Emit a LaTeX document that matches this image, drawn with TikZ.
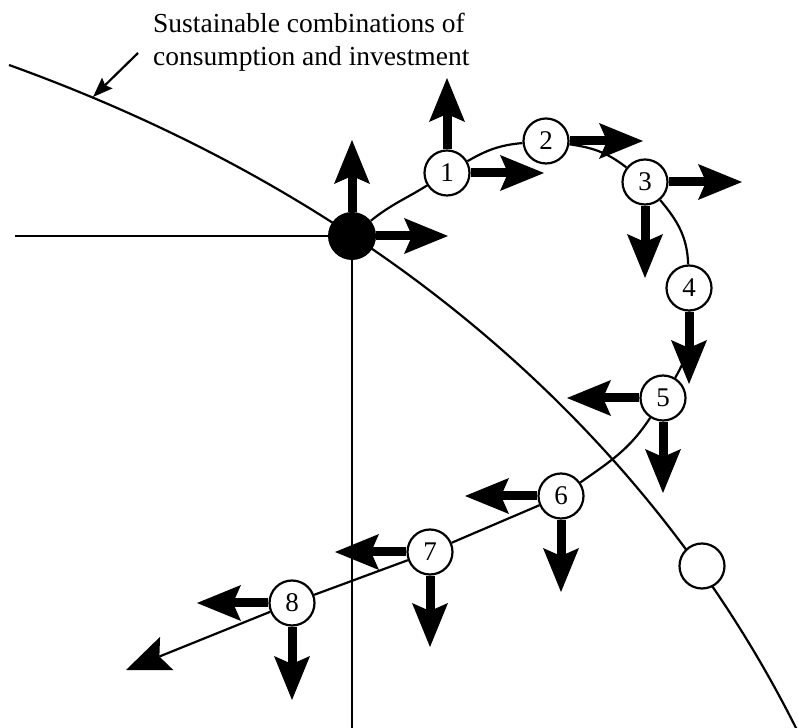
\documentclass[tikz,border=0pt]{standalone}
\usepackage{fontspec}
\setmainfont{Liberation Serif}
\usetikzlibrary{arrows.meta}

\begin{document}
\begin{tikzpicture}[
  x=1pt, y=1pt,
  curve/.style={line width=2.2pt},
  stage/.style={circle, draw, line width=2.2pt, fill=white, minimum size=45pt,
    inner sep=0pt, font=\fontsize{27}{30}\selectfont},
  steady/.style={circle, fill=black, minimum size=48pt, inner sep=0pt},
  force/.style={line width=9pt,
    -{Stealth[length=44pt, width=36pt, inset=8pt, line width=0pt]}},
  path arr/.style={line width=2.2pt,
    -{Stealth[length=44pt, width=36pt, inset=8pt, line width=0pt]}},
  pointer/.style={line width=2.2pt,
    -{Stealth[length=20pt, width=15pt, inset=3pt, line width=0pt]}}
]
\useasboundingbox (0,0) rectangle (798,728);

% frontier of sustainable combinations
\coordinate (front0) at (9,663);
\coordinate (front1) at (797,-2);
\draw[curve] (front0) .. controls (409,519) and (662,268) .. (front1);
\coordinate (origin) at (352,492);
\coordinate (hleft) at (15,492);
\coordinate (vbottom) at (352,0);
\draw[curve] (hleft) -- (origin) -- (vbottom);

% steady state and path
\node[steady] (ss) at (origin) {};
\node[stage] (s1) at (447,555) {1};
\node[stage] (s2) at (546,587) {2};
\node[stage] (s3) at (645,546) {3};
\node[stage] (s4) at (689,440) {4};
\node[stage] (s5) at (663,330) {5};
\node[stage] (s6) at (561,232) {6};
\node[stage] (s7) at (430,176) {7};
\node[stage] (s8) at (292,125) {8};
\node[stage] (other) at (702,162) {};
\coordinate (pathend) at (126,58);

\draw[curve] (ss) to[out=39, in=212] (s1) to[out=30, in=185] (s2)
  to[out=-8, in=142] (s3) to[out=-50, in=92] (s4)
  to[out=-88, in=59] (s5) to[out=-123, in=35] (s6)
  -- (s7) -- (s8);
\draw[path arr] (s8) -- (pathend);

% movements
\draw[force] (ss) -- ++(0,96);
\draw[force] (ss) -- ++(96,0);
\draw[force] (s1) -- ++(0,95);
\draw[force] (s1) -- ++(97,0);
\draw[force] (s2) -- ++(97,0);
\draw[force] (s3) -- ++(97,0);
\draw[force] (s3) -- ++(0,-96);
\draw[force] (s4) -- ++(0,-96);
\draw[force] (s5) -- ++(-96,0);
\draw[force] (s5) -- ++(0,-95);
\draw[force] (s6) -- ++(-96,0);
\draw[force] (s6) -- ++(0,-96);
\draw[force] (s7) -- ++(-95,0);
\draw[force] (s7) -- ++(0,-95);
\draw[force] (s8) -- ++(-95,0);
\draw[force] (s8) -- ++(0,-97);

% label
\node[anchor=north west, align=left, inner sep=0pt,
  font=\fontsize{27.5}{33}\selectfont] (lbl) at (153,715)
  {Sustainable combinations of\\consumption and investment};
\coordinate (lblfoot) at (138,675);
\coordinate (onfront) at (93,631);
\draw[pointer] (lblfoot) -- (onfront);
\end{tikzpicture}
\end{document}
